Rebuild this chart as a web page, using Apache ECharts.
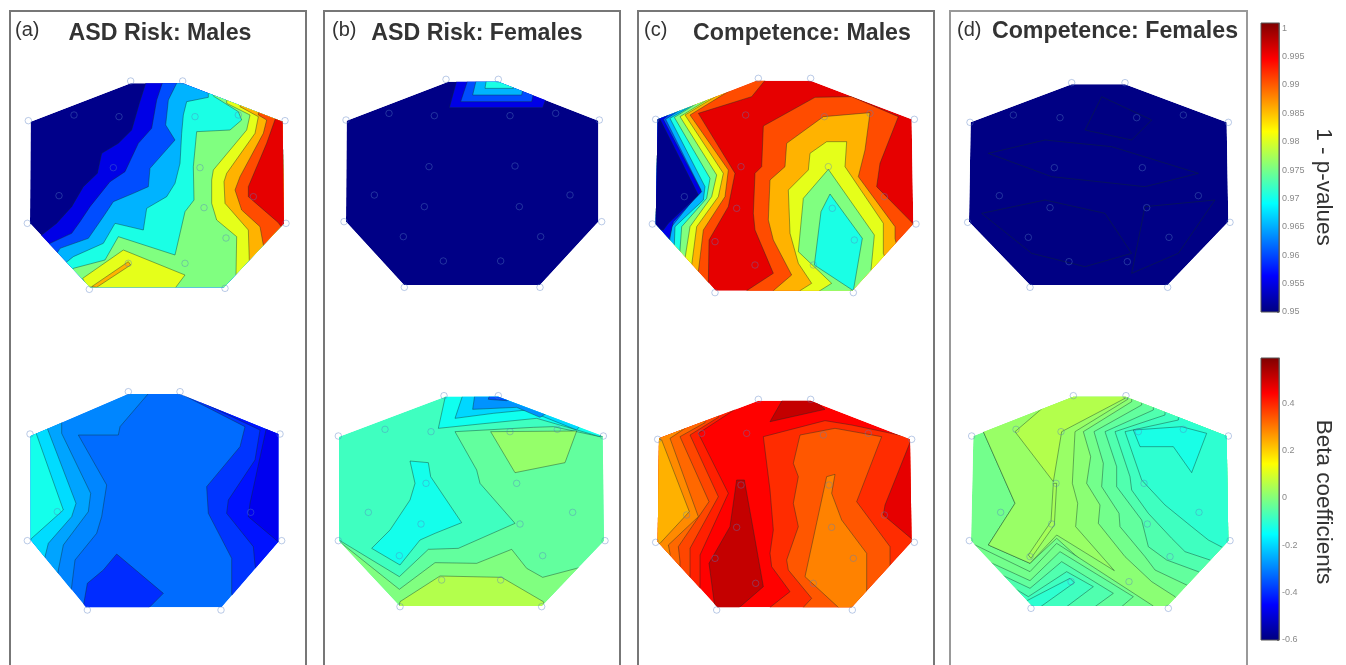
<!DOCTYPE html>
<html><head><meta charset="utf-8">
<style>html,body{margin:0;padding:0;background:#fff;overflow:hidden}#c{width:1346px;height:665px;filter:blur(0.7px)}</style>
<script src="https://cdn.jsdelivr.net/npm/echarts@6/dist/echarts.min.js"></script>
</head><body><div id="c"></div>
<script>
// Tick labels and colour scale
const pTicks=[0.95,0.955,0.96,0.965,0.97,0.975,0.98,0.985,0.99,0.995,1];
const betaTicks=[-0.6,-0.4,-0.2,0,0.2,0.4];
const pRange=[0.95,1.0009], betaRange=[-0.6,0.59];
const jetStops=[[0,'#000080'],[.125,'#0000ff'],[.375,'#00ffff'],[.625,'#ffff00'],[.875,'#ff0000'],[1,'#800000']];
const panelTitles=['ASD Risk: Males','ASD Risk: Females','Competence: Males','Competence: Females'];
const panelTags=['(a)','(b)','(c)','(d)'];

// Scalp outlines, electrodes, contour regions: [level,[x,y...]] in scalp-map units
const hullA1=[[92,365],[392,250],[548,250],[848,365],[852,670],[672,862],[270,862],[90,670]];
const elecA1=[[392,243],[548,243],[85,362],[855,362],[222,345],[357,350],[585,350],[715,345],[340,503],[600,503],[177,587],[760,590],[612,623],[678,714],[82,670],[858,670],[385,790],[555,790],[268,868],[675,865]];
const regA1=[
[.9505,hullA1],
[.955,[[440,240],[418,310],[395,390],[355,430],[305,460],[292,520],[250,560],[215,620],[170,670],[125,705],[80,730],[80,950],[1000,950],[1000,200],[440,200]]],
[.96,[[490,240],[470,300],[455,385],[415,430],[375,515],[330,545],[270,620],[240,665],[215,700],[150,730],[130,750],[130,950],[1000,950],[1000,200],[490,200]]],
[.965,[[535,240],[505,300],[497,375],[525,420],[450,505],[445,560],[400,580],[340,605],[310,650],[265,715],[180,745],[165,770],[140,950],[1000,950],[1000,200],[535,200]]],
[.97,[[625,280],[625,292],[560,305],[550,345],[545,400],[540,490],[525,550],[500,590],[440,625],[430,690],[345,670],[310,730],[220,770],[195,790],[150,830],[150,950],[1000,950],[1000,200],[625,200]]],
[.975,[[640,270],[640,288],[715,335],[725,360],[690,390],[590,395],[580,500],[582,600],[555,635],[525,765],[355,710],[315,780],[220,805],[200,830],[200,950],[1000,950],[1000,200],[640,200]]],
[.98,[[680,310],[750,345],[740,390],[640,510],[635,540],[635,610],[650,660],[710,710],[708,825],[740,900],[1000,900],[1000,200],[680,200]]],
[.98,[[248,835],[370,750],[555,825],[525,865],[262,865]]],
[.985,[[275,860],[385,785],[392,795],[290,862]]],
[.985,[[720,320],[775,350],[765,400],[680,520],[672,545],[675,610],[745,690],[748,785],[790,900],[1000,900],[1000,200],[720,200]]],
[.99,[[775,345],[800,360],[790,400],[720,530],[705,570],[725,630],[780,680],[790,735],[840,900],[1000,900],[1000,200],[775,200]]],
[.995,[[830,345],[800,430],[745,560],[745,590],[835,668],[900,760],[1000,760],[1000,200],[830,200]]]
];

const hullA2=[[92,318],[385,192],[540,192],[835,312],[835,635],[665,832],[258,832],[92,630]];
const elecA2=[[385,185],[540,185],[90,312],[840,312],[172,545],[752,547],[82,632],[845,632],[262,840],[663,840]];
const regA2=[
[-.325,hullA2],
[-.295,[[450,185],[360,290],[355,315],[235,315],[320,465],[305,560],[290,610],[225,690],[215,770],[200,900],[0,900],[0,100],[450,100]]],
[-.26,[[185,270],[185,310],[272,490],[265,545],[190,645],[175,720],[150,900],[0,900],[0,100],[185,100]]],
[-.195,[[140,290],[228,520],[215,560],[145,640],[135,680],[110,900],[0,900],[0,100],[140,100]]],
[-.13,[[105,300],[190,540],[95,625],[80,650],[0,650],[0,100],[105,100]]],
[-.39,[[530,185],[735,290],[720,350],[620,470],[625,550],[695,685],[695,790],[720,900],[1000,900],[1000,100],[530,100]]],
[-.43,[[600,215],[780,300],[765,390],[685,510],[680,550],[760,650],[765,705],[810,900],[1000,900],[1000,100],[600,100]]],
[-.47,[[800,290],[750,520],[745,560],[840,640],[1000,700],[1000,100],[800,100]]],
[-.4,[[440,840],[490,790],[350,672],[310,720],[262,760],[248,840]]]
];

const hullB1=[[80,362],[385,245],[535,245],[835,362],[835,665],[660,855],[252,855],[78,665]];
const elecB1=[[378,238],[535,238],[78,360],[838,360],[207,340],[343,347],[570,347],[707,340],[327,500],[585,498],[163,585],[750,585],[313,620],[598,620],[250,710],[662,710],[72,665],[845,665],[370,783],[542,783],[253,862],[660,862]];
const regB1=[
[.9503,hullB1],
[.955,[[412,235],[388,323],[668,323],[700,235]]],
[.96,[[445,235],[422,305],[635,305],[650,235]]],
[.965,[[470,235],[458,285],[605,285],[615,235]]],
[.97,[[500,235],[495,265],[580,265],[570,235]]]
];

const hullB2=[[57,320],[375,200],[535,200],[848,318],[852,632],[665,828],[240,828],[57,632]];
const elecB2=[[372,197],[535,197],[55,318],[850,318],[195,298],[333,305],[570,305],[712,298],[318,460],[590,460],[145,547],[758,547],[303,582],[600,582],[238,677],[668,677],[55,632],[855,632],[365,750],[542,750],[240,830],[665,830]];
const regB2=[
[-.08,hullB2],
[-.04,[[405,305],[470,420],[480,460],[585,580],[415,655],[325,658],[238,740],[60,632],[0,700],[0,1000],[1000,1000],[1000,318],[840,320],[700,290],[640,292]]],
[-.005,[[60,636],[238,778],[345,698],[470,700],[575,658],[620,715],[668,742],[770,715],[860,690],[1000,900],[1000,1000],[0,1000],[0,700]]],
[.055,[[240,815],[360,738],[545,742],[670,815],[700,900],[220,900]]],
[.02,[[512,305],[770,303],[735,398],[585,428]]],
[-.13,[[270,393],[325,398],[332,440],[425,578],[345,610],[300,630],[240,705],[155,655],[210,600],[270,510],[285,460]]],
[-.135,[[378,190],[355,295],[480,282],[650,265],[840,320],[900,200]]],
[-.2,[[430,190],[405,265],[520,250],[620,240],[770,300],[850,200]]],
[-.28,[[465,190],[458,238],[590,232],[660,262],[760,200]]],
[-.36,[[510,190],[505,208],[560,212],[620,190]]]
];

const hullC1=[[68,358],[365,242],[527,242],[830,358],[835,672],[652,872],[242,872],[62,672]];
const elecC1=[[370,235],[527,235],[62,358],[838,358],[332,345],[568,350],[705,340],[318,500],[580,500],[148,590],[748,590],[305,625],[592,625],[240,725],[658,720],[52,672],[843,672],[360,795],[535,795],[240,878],[655,878]];
const regC1=[
[.995,hullC1],
[.99,[[395,235],[350,290],[190,340],[300,520],[280,620],[222,720],[220,850],[230,950],[0,950],[0,100],[395,100]]],
[.985,[[300,262],[165,345],[280,510],[270,590],[205,690],[190,815],[190,950],[0,950],[0,100],[300,100]]],
[.98,[[270,272],[150,345],[265,520],[250,590],[185,680],[170,795],[170,950],[0,950],[0,100],[270,100]]],
[.975,[[240,285],[135,350],[245,525],[230,590],[165,680],[150,775],[150,950],[0,950],[0,100],[240,100]]],
[.97,[[210,295],[118,352],[225,535],[215,595],[140,680],[135,750],[130,950],[0,950],[0,100],[210,100]]],
[.965,[[190,305],[105,355],[210,560],[205,600],[120,680],[118,735],[110,950],[0,950],[0,100],[190,100]]],
[.96,[[150,320],[92,358],[198,570],[110,680],[105,715],[90,950],[0,950],[0,100],[150,100]]],
[.955,[[100,345],[85,358],[200,575],[115,665],[105,708],[80,800],[0,800],[0,100],[100,100]]],
[.9505,[[75,358],[190,585],[100,670],[85,690],[0,690],[0,300]]],
[.99,[[385,378],[540,292],[650,290],[790,350],[735,490],[725,560],[845,682],[900,800],[700,950],[335,950],[335,872],[415,820],[360,690],[355,640],[360,520],[380,500]]],
[.985,[[455,430],[565,350],[705,338],[690,450],[670,530],[780,680],[780,715],[800,800],[650,950],[415,950],[415,872],[470,825],[415,720],[400,660],[405,540],[450,500]]],
[.98,[[525,460],[575,425],[635,425],[630,500],[745,670],[745,760],[760,800],[640,950],[495,950],[495,872],[530,850],[490,790],[465,700],[460,570],[520,510]]],
[.975,[[580,508],[718,705],[708,810],[720,830],[640,950],[545,950],[545,878],[590,850],[490,755],[505,595]]],
[.97,[[585,582],[682,715],[655,872],[538,795],[558,635]]]
];

const hullC2=[[72,325],[370,212],[527,212],[825,328],[830,635],[650,832],[247,832],[68,635]];
const elecC2=[[370,208],[527,208],[68,328],[830,328],[200,310],[335,310],[565,315],[700,310],[318,465],[582,465],[155,555],[748,555],[305,592],[590,592],[240,685],[655,685],[62,637],[838,637],[362,760],[535,760],[245,840],[652,840]];
const regC2=[
[.44,hullC2],
[.404,[[320,225],[190,310],[280,490],[195,675],[195,760],[190,950],[0,950],[0,100],[320,100]]],
[.36,[[250,262],[165,315],[250,500],[165,655],[165,730],[160,950],[0,950],[0,100],[250,100]]],
[.32,[[210,278],[135,320],[222,515],[130,650],[135,695],[130,950],[0,950],[0,100],[210,100]]],
[.28,[[150,295],[105,325],[190,560],[100,645],[105,670],[90,950],[0,950],[0,100],[150,100]]],
[.235,[[80,330],[163,545],[75,640],[0,680],[0,300]]],
[.39,[[385,320],[570,272],[650,285],[840,325],[1000,400],[1000,900],[800,950],[405,950],[405,832],[465,785],[410,710],[405,670],[415,600],[405,480]]],
[.47,[[830,325],[750,525],[745,555],[840,635],[1000,660],[1000,300]]],
[.34,[[495,315],[600,295],[740,320],[665,515],[765,650],[765,705],[790,800],[650,950],[505,950],[505,832],[530,805],[460,720],[455,690],[490,590],[475,520],[490,440],[475,400]]],
[.29,[[575,440],[600,433],[590,490],[620,570],[695,670],[695,785],[720,800],[660,900],[610,900],[610,832],[510,740]]],
[.51,[[305,450],[328,450],[355,600],[385,770],[310,835],[240,835],[222,700],[285,590]]],
[.51,[[405,275],[445,205],[530,205],[570,238]]]
];

const hullD1=[[77,367],[380,253],[540,253],[845,367],[850,665],[668,855],[255,855],[72,665]];
const elecD1=[[380,248],[540,248],[75,367],[850,367],[205,345],[345,353],[575,353],[715,345],[328,503],[592,503],[163,587],[760,587],[315,623],[605,623],[250,712],[672,712],[68,667],[855,667],[372,785],[547,785],[255,862],[668,862]];
const regD1=[
[.9502,hullD1],
[.9503,[[130,460],[300,420],[500,440],[760,520],[600,560],[320,530]]],
[.9501,[[110,640],[300,600],[480,640],[560,760],[420,800],[260,760]]],
[.9501,[[470,290],[620,360],[560,420],[420,390]]],
[.9503,[[600,620],[810,600],[700,760],[560,820]]]
];

const hullD2=[[85,318],[385,200],[543,200],[845,318],[850,632],[668,828],[262,828],[78,632]];
const elecD2=[[385,197],[543,197],[80,318],[850,318],[213,298],[348,305],[580,305],[715,298],[333,460],[597,460],[167,547],[762,547],[320,582],[607,582],[255,680],[675,680],[73,632],[855,632],[378,755],[552,755],[258,835],[670,835]];
const regD2=[
[-.02,hullD2],
[.008,[[115,100],[115,305],[210,520],[130,645],[255,700],[335,625],[640,900],[1000,1000],[1000,100]]],
[.025,[[115,100],[115,305],[210,520],[130,645],[255,700],[335,615],[508,722],[392,590],[398,520],[382,460],[390,305],[548,208],[548,100]]],
[.055,[[300,228],[210,305],[325,455],[350,305],[540,205],[540,150],[300,150]]],
[.04,[[325,460],[335,460],[328,585],[258,685],[250,675],[318,575]]],
[-.02,[[80,640],[255,725],[335,640],[625,828],[640,900],[60,900]]],
[-.04,[[120,690],[255,752],[345,665],[565,800],[530,830],[530,900],[120,900]]],
[-.06,[[160,730],[255,775],[350,695],[505,790],[450,830],[450,900],[160,900]]],
[-.08,[[200,770],[250,800],[365,725],[445,770],[365,830],[365,900],[200,900]]],
[-.1,[[240,815],[375,745],[388,758],[280,835],[240,840]]],
[-.02,[[560,150],[560,215],[415,305],[437,380],[425,460],[465,525],[460,580],[540,680],[620,755],[690,800],[720,850],[1000,1000],[1000,150]]],
[-.04,[[590,150],[590,225],[447,305],[475,400],[470,470],[522,550],[525,590],[600,680],[630,720],[725,765],[770,800],[1000,800],[1000,150]]],
[-.06,[[625,150],[625,240],[480,305],[515,410],[515,470],[590,570],[610,650],[665,690],[760,725],[800,760],[1000,760],[1000,150]]],
[-.08,[[660,150],[660,255],[510,305],[555,440],[560,480],[610,550],[680,625],[720,665],[795,690],[830,720],[1000,720],[1000,150]]],
[-.1,[[700,150],[700,270],[540,305],[590,450],[660,525],[740,590],[790,630],[832,652],[870,680],[1000,680],[1000,150]]],
[-.125,[[565,300],[585,350],[685,350],[740,428],[785,310],[710,290]]]
];

// Layout of the page
const panels=[
 {box:[0,0,320,330],hull:hullA1,elec:elecA1,reg:regA1,dom:[.95,1]},
 {box:[0,330,320,335],hull:hullA2,elec:elecA2,reg:regA2,dom:betaRange},
 {box:[320,0,320,330],hull:hullB1,elec:elecB1,reg:regB1,dom:[.95,1]},
 {box:[320,330,320,335],hull:hullB2,elec:elecB2,reg:regB2,dom:betaRange},
 {box:[635,0,310,330],hull:hullC1,elec:elecC1,reg:regC1,dom:[.95,1]},
 {box:[635,330,310,335],hull:hullC2,elec:elecC2,reg:regC2,dom:betaRange},
 {box:[945,0,310,330],hull:hullD1,elec:elecD1,reg:regD1,dom:[.95,1]},
 {box:[945,330,310,335],hull:hullD2,elec:elecD2,reg:regD2,dom:betaRange}
];
function hex(c){return [1,3,5].map(i=>parseInt(c.substr(i,2),16));}
function jet(f){
 f=Math.max(0,Math.min(1,f));
 for(let i=1;i<jetStops.length;i++){
  if(f<=jetStops[i][0]){
   const a=jetStops[i-1],b=jetStops[i],t=(f-a[0])/(b[0]-a[0]),A=hex(a[1]),B=hex(b[1]);
   return 'rgb('+A.map((v,k)=>Math.round(v+(B[k]-v)*t)).join(',')+')';
  }
 }
 return jetStops[jetStops.length-1][1];
}
const grid=[],xAxis=[],yAxis=[],series=[];
panels.forEach((p,i)=>{
 const [l,t,w,h]=p.box;
 grid.push({left:l,top:t,width:w,height:h});
 xAxis.push({type:'value',gridIndex:i,min:0,max:w*3,show:false});
 yAxis.push({type:'value',gridIndex:i,min:0,max:h*3,inverse:true,show:false});
 series.push({type:'custom',xAxisIndex:i,yAxisIndex:i,silent:true,animation:false,clip:false,z:2,
  data:p.reg.map((r,k)=>[k,r[0]]),encode:{x:0,y:1},
  renderItem:(params,api)=>{
   const r=p.reg[params.dataIndex];
   const toPx=a=>a.map(q=>api.coord(q));
   return {type:'polygon',shape:{points:toPx(r[1])},
     clipPath:{type:'polygon',shape:{points:toPx(p.hull)}},
     style:{fill:jet((r[0]-p.dom[0])/(p.dom[1]-p.dom[0])),
       stroke:params.dataIndex===0?null:'rgba(15,45,40,0.45)',lineWidth:0.9}};
  }});
 series.push({type:'scatter',xAxisIndex:i,yAxisIndex:i,silent:true,animation:false,z:3,
  data:p.elec,symbol:'circle',symbolSize:6.5,
  itemStyle:{color:'transparent',borderColor:'rgba(85,125,195,0.5)',borderWidth:1}});
});
// Colour bars
const bars=[{top:23,height:289,range:pRange,ticks:pTicks},{top:358,height:282,range:betaRange,ticks:betaTicks}];
bars.forEach((b,n)=>{
 const i=panels.length+n;
 grid.push({left:1261,top:b.top,width:18,height:b.height,show:true,borderColor:'#555',borderWidth:1,backgroundColor:'transparent',z:5});
 xAxis.push({type:'value',gridIndex:i,min:0,max:1,show:false});
 yAxis.push({type:'value',gridIndex:i,position:'right',min:b.range[0],max:b.range[1],interval:n===0?0.005:0.2,
  splitLine:{show:false},axisLine:{show:true,onZero:false,lineStyle:{color:'#666',width:.8}},
  axisTick:{show:true,inside:true,length:2,lineStyle:{color:'#666',width:.8}},
  axisLabel:{show:true,fontFamily:'Liberation Sans',fontSize:9,color:'#8a8a8a',margin:3,showMaxLabel:false,showMinLabel:true,
   formatter:v=>String(Math.round(v*1000)/1000)}});
 series.push({type:'custom',xAxisIndex:i,yAxisIndex:i,silent:true,animation:false,z:2,
  data:[[0,b.range[0],1,b.range[1]]],encode:{x:[0,2],y:[1,3]},
  renderItem:(params,api)=>{
   const a=api.coord([0,api.value(1)]),c=api.coord([1,api.value(3)]);
   return {type:'rect',shape:{x:a[0],y:c[1],width:c[0]-a[0],height:a[1]-c[1]},
    style:{fill:{type:'linear',x:0,y:1,x2:0,y2:0,colorStops:jetStops.map(s=>({offset:s[0],color:s[1]}))}}};
  }});
});
const titleCx=[160,477,802,1115],titleCy=[34,34,34,32],tagX=[15,332,644,957],tagCy=[30,30,30,30];
const title=[];
panelTitles.forEach((t,i)=>title.push({text:t,left:titleCx[i],top:titleCy[i],padding:0,textAlign:'center',textVerticalAlign:'middle',
 textStyle:{fontFamily:'Liberation Sans',fontWeight:'bold',fontSize:23.2,color:'#333'}}));
panelTags.forEach((t,i)=>title.push({text:t,left:tagX[i],top:tagCy[i],padding:0,textVerticalAlign:'middle',
 textStyle:{fontFamily:'Liberation Sans',fontWeight:'normal',fontSize:20,color:'#333'}}));
const frames=[[10,306,'#777'],[324,620,'#777'],[638,934,'#777'],[950,1247,'#999']];
const graphic=frames.map(f=>({type:'rect',shape:{x:f[0],y:11,width:f[1]-f[0],height:700},silent:true,
  style:{fill:'transparent',stroke:f[2],lineWidth:2},z:1}));
[['1 - p-values',187],['Beta coefficients',502]].forEach(a=>graphic.push({type:'text',x:1323,y:a[1],rotation:-Math.PI/2,silent:true,
  style:{text:a[0],font:'22.5px "Liberation Sans"',fill:'#333',textAlign:'center',textVerticalAlign:'middle'}}));
const chart=echarts.init(document.getElementById('c'));
chart.setOption({animation:false,backgroundColor:'#fff',title,grid,xAxis,yAxis,series,graphic});
</script></body></html>
